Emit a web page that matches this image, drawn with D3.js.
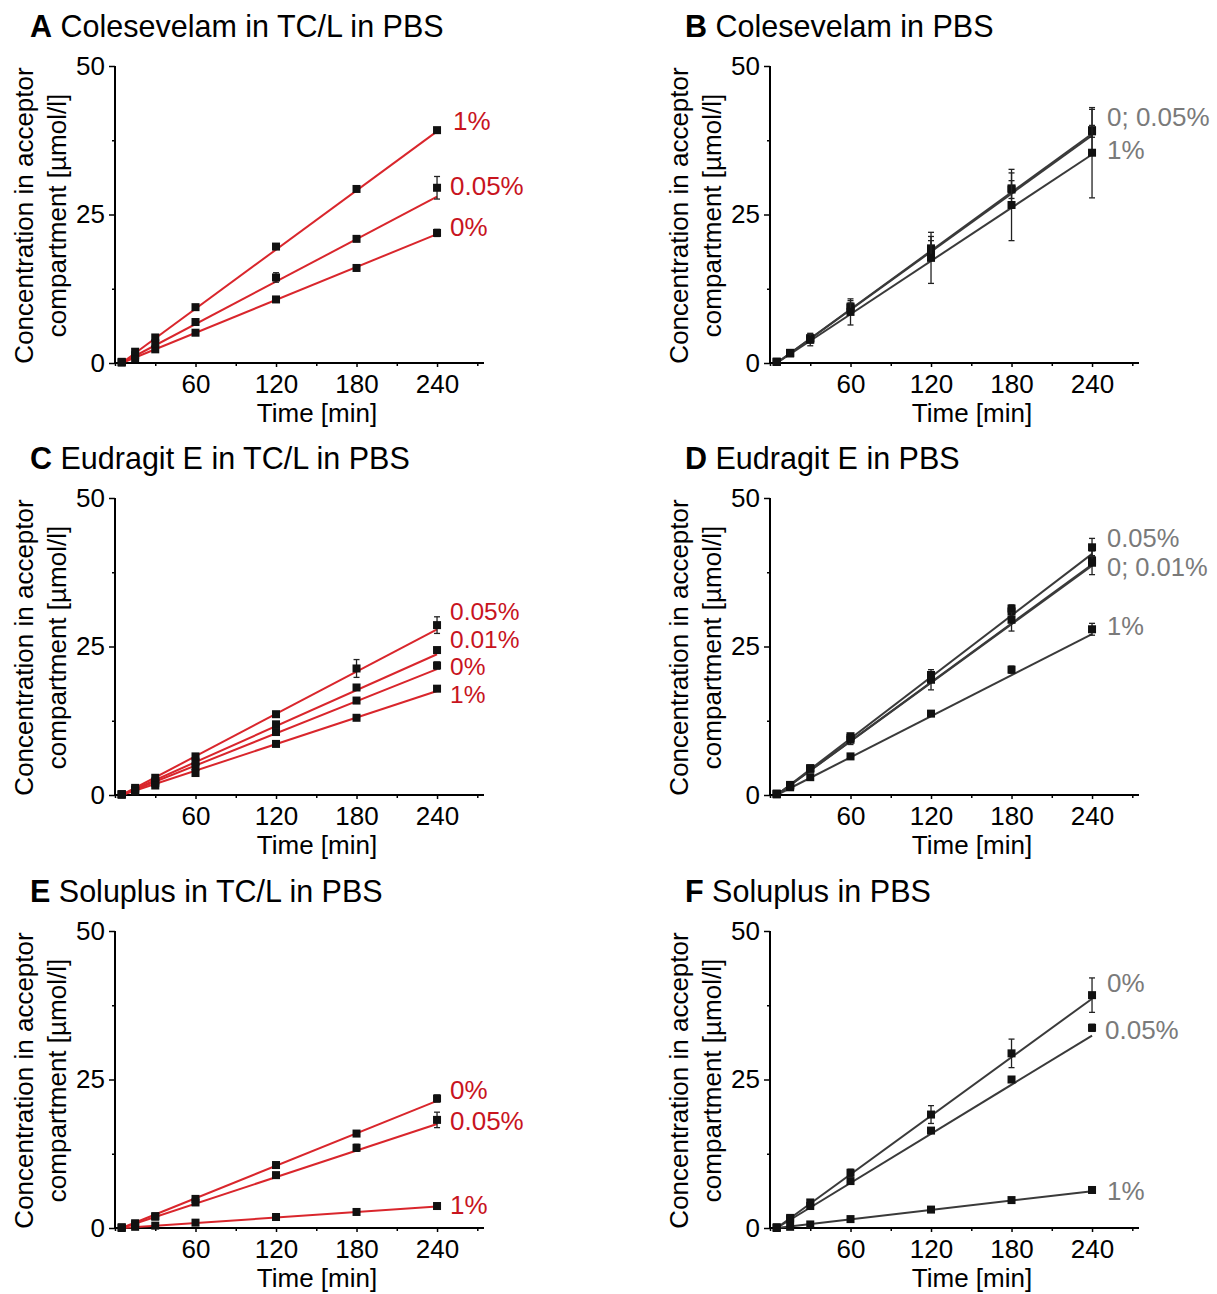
<!DOCTYPE html>
<html>
<head>
<meta charset="utf-8">
<script src="https://cdn.jsdelivr.net/npm/d3@7"></script>
<style>
  html, body { margin: 0; padding: 0; background: #fff; }
  svg text { font-family: "Liberation Sans", Arial, sans-serif; }
</style>
</head>
<body>
<svg id="fig" width="1217" height="1294"></svg>
<script>
// Sampling times (min)
const times = [5, 15, 30, 60, 120, 180, 240];
const xMajorTicks = [60, 120, 180, 240];
const xMinorTicks = [0, 30, 90, 150, 210, 270];
const yMajorTicks = [0, 25, 50];
const yMinorTicks = [12.5, 37.5];

// A  Colesevelam in TC/L in PBS
const aMean0 = [0.1, 0.8, 2.3, 5.1, 10.7, 16.0, 21.9];
const aSd0 = [0.1, 0.2, 0.3, 0.3, 0.3, 0.5, 0.6];
const aMean005 = [0.1, 1.3, 3.3, 6.9, 14.4, 20.9, 29.5];
const aSd005 = [0.1, 0.2, 0.3, 0.3, 0.8, 0.5, 1.9];
const aMean1 = [0.2, 1.9, 4.3, 9.4, 19.6, 29.3, 39.2];
const aSd1 = [0.1, 0.2, 0.3, 0.3, 0.3, 0.3, 0.5];
const aFitEnd = [21.7, 28.0, 39.0];

// B  Colesevelam in PBS
const bMean0 = [0.2, 1.7, 4.2, 9.5, 19.3, 29.4, 39.2];
const bSd0 = [0.1, 0.2, 0.8, 1.0, 2.0, 2.6, 3.5];
const bMean005 = [0.2, 1.7, 4.1, 9.3, 19.0, 29.2, 39.0];
const bSd005 = [0.1, 0.2, 0.6, 0.8, 1.6, 1.5, 1.0];
const bMean1 = [0.2, 1.6, 3.9, 8.6, 17.7, 26.6, 35.4];
const bSd1 = [0.1, 0.3, 1.0, 2.2, 4.3, 6.0, 7.6];
const bFitEnd = [38.6, 38.3, 35.1];

// C  Eudragit E in TC/L in PBS
const cMean0 = [0.1, 0.8, 2.0, 4.8, 10.6, 15.9, 21.8];
const cSd0 = [0.1, 0.1, 0.2, 0.3, 0.3, 0.5, 0.6];
const cMean001 = [0.1, 0.9, 2.3, 5.6, 11.9, 18.1, 24.4];
const cSd001 = [0.1, 0.1, 0.2, 0.3, 0.3, 0.3, 0.4];
const cMean005 = [0.1, 1.2, 2.9, 6.5, 13.6, 21.3, 28.6];
const cSd005 = [0.1, 0.1, 0.3, 0.3, 0.3, 1.5, 1.4];
const cMean1 = [0.1, 0.6, 1.6, 3.7, 8.6, 13.0, 17.9];
const cSd1 = [0.1, 0.1, 0.2, 0.3, 0.4, 0.3, 0.3];
const cFitEnd = [21.2, 23.7, 27.9, 17.5];

// D  Eudragit E in PBS
const dMean0 = [0.2, 1.6, 4.5, 9.6, 19.8, 30.9, 39.5];
const dSd0 = [0.1, 0.2, 0.3, 0.4, 0.5, 0.6, 0.8];
const dMean001 = [0.2, 1.6, 4.4, 9.3, 19.4, 29.5, 39.1];
const dSd001 = [0.1, 0.2, 0.3, 0.8, 1.7, 1.9, 2.0];
const dMean005 = [0.2, 1.7, 4.5, 9.9, 20.2, 31.4, 41.7];
const dSd005 = [0.1, 0.2, 0.3, 0.4, 0.5, 0.6, 1.5];
const dMean1 = [0.1, 1.3, 3.0, 6.5, 13.7, 21.1, 27.9];
const dSd1 = [0.1, 0.1, 0.2, 0.2, 0.3, 0.6, 1.0];
const dFitEnd = [38.8, 38.6, 40.6, 27.1];

// E  Soluplus in TC/L in PBS
const eMean0 = [0.1, 0.8, 2.0, 4.9, 10.6, 15.9, 21.8];
const eSd0 = [0.1, 0.1, 0.2, 0.3, 0.3, 0.5, 0.6];
const eMean005 = [0.1, 0.6, 1.9, 4.3, 8.9, 13.5, 18.2];
const eSd005 = [0.1, 0.1, 0.2, 0.3, 0.3, 0.6, 1.3];
const eMean1 = [0.0, 0.2, 0.4, 0.9, 1.85, 2.7, 3.7];
const eSd1 = [0.0, 0.1, 0.1, 0.1, 0.1, 0.1, 0.2];
const eFitEnd = [21.4, 17.5, 3.6];

// F  Soluplus in PBS
const fMean0 = [0.1, 1.7, 4.3, 9.3, 19.1, 29.4, 39.2];
const fSd0 = [0.1, 0.2, 0.3, 0.6, 1.5, 2.4, 2.9];
const fMean005 = [0.1, 1.5, 3.7, 7.9, 16.4, 25.0, 33.7];
const fSd005 = [0.1, 0.1, 0.2, 0.3, 0.3, 0.5, 0.6];
const fMean1 = [0.0, 0.2, 0.6, 1.5, 3.1, 4.7, 6.4];
const fSd1 = [0.0, 0.1, 0.1, 0.1, 0.1, 0.1, 0.2];
const fFitEnd = [38.6, 32.4, 6.2];

const RED_LINE = "#d9262c";
const RED_TEXT = "#c8141e";
const GREY_LINE = "#3a3a3a";
const GREY_TEXT = "#7a7a7a";
const FONT = "Liberation Sans, Arial, sans-serif";

function series(means, sds, fitEnd) {
  return { means, sds, fitEnd };
}

// Panel definitions: grid position, title, series and right-hand labels
const panels = [
  { col: 0, row: 0, letter: "A", title: "Colesevelam in TC/L in PBS", line: RED_LINE, text: RED_TEXT, labelSize: 26,
    series: [series(aMean0, aSd0, aFitEnd[0]), series(aMean005, aSd005, aFitEnd[1]), series(aMean1, aSd1, aFitEnd[2])],
    labels: [{ t: "1%", dx: 3, y: 130 }, { t: "0.05%", dx: 0, y: 195 }, { t: "0%", dx: 0, y: 236 }] },
  { col: 1, row: 0, letter: "B", title: "Colesevelam in PBS", line: GREY_LINE, text: GREY_TEXT, labelSize: 26,
    series: [series(bMean0, bSd0, bFitEnd[0]), series(bMean005, bSd005, bFitEnd[1]), series(bMean1, bSd1, bFitEnd[2])],
    labels: [{ t: "0; 0.05%", dx: 2, y: 126 }, { t: "1%", dx: 2, y: 159 }] },
  { col: 0, row: 1, letter: "C", title: "Eudragit E in TC/L in PBS", line: RED_LINE, text: RED_TEXT, labelSize: 24.5,
    series: [series(cMean0, cSd0, cFitEnd[0]), series(cMean001, cSd001, cFitEnd[1]), series(cMean005, cSd005, cFitEnd[2]), series(cMean1, cSd1, cFitEnd[3])],
    labels: [{ t: "0.05%", dx: 0, y: 620 }, { t: "0.01%", dx: 0, y: 647.5 }, { t: "0%", dx: 0, y: 675 }, { t: "1%", dx: 0, y: 702.5 }] },
  { col: 1, row: 1, letter: "D", title: "Eudragit E in PBS", line: GREY_LINE, text: GREY_TEXT, labelSize: 25.5,
    series: [series(dMean0, dSd0, dFitEnd[0]), series(dMean001, dSd001, dFitEnd[1]), series(dMean005, dSd005, dFitEnd[2]), series(dMean1, dSd1, dFitEnd[3])],
    labels: [{ t: "0.05%", dx: 2, y: 547 }, { t: "0; 0.01%", dx: 2, y: 575.5 }, { t: "1%", dx: 2, y: 635 }] },
  { col: 0, row: 2, letter: "E", title: "Soluplus in TC/L in PBS", line: RED_LINE, text: RED_TEXT, labelSize: 26,
    series: [series(eMean0, eSd0, eFitEnd[0]), series(eMean005, eSd005, eFitEnd[1]), series(eMean1, eSd1, eFitEnd[2])],
    labels: [{ t: "0%", dx: 0, y: 1099 }, { t: "0.05%", dx: 0, y: 1130 }, { t: "1%", dx: 0, y: 1214 }] },
  { col: 1, row: 2, letter: "F", title: "Soluplus in PBS", line: GREY_LINE, text: GREY_TEXT, labelSize: 26,
    series: [series(fMean0, fSd0, fFitEnd[0]), series(fMean005, fSd005, fFitEnd[1]), series(fMean1, fSd1, fFitEnd[2])],
    labels: [{ t: "0%", dx: 2, y: 992 }, { t: "0.05%", dx: 0, y: 1039 }, { t: "1%", dx: 2, y: 1200 }] }
];

const svg = d3.select("#fig");
const colX = [0, 655];
const rowY = [0, 432, 865];

panels.forEach(p => {
  const ox = colX[p.col], oy = rowY[p.row];
  const g = svg.append("g").attr("transform", `translate(${ox},${oy})`);

  const x = d3.scaleLinear().domain([0, 275]).range([115, 484]);
  const y = d3.scaleLinear().domain([0, 50]).range([363, 66]);

  // Title
  const title = g.append("text").attr("x", 30).attr("y", 37)
    .attr("font-size", 30.5).attr("fill", "#000");
  title.append("tspan").attr("font-weight", "bold").text(p.letter);
  title.append("tspan").text(" " + p.title);

  // Y axis
  const yAxis = g.append("g").attr("transform", `translate(${x.range()[0]},0)`)
    .call(d3.axisLeft(y).tickValues(yMajorTicks).tickSize(6).tickPadding(4).tickFormat(d3.format("d")));
  yAxis.select(".domain").attr("stroke-width", 2).attr("d", `M0,${y(0)}V${y(50)}`);
  yAxis.selectAll(".tick line").attr("stroke-width", 1.5);
  yAxis.selectAll(".tick text").attr("font-size", 26).attr("font-family", FONT).attr("fill", "#000");
  g.append("g").attr("transform", `translate(${x.range()[0]},0)`)
    .call(d3.axisLeft(y).tickValues(yMinorTicks).tickSize(3).tickFormat(""))
    .call(s => s.select(".domain").remove())
    .selectAll(".tick line").attr("stroke-width", 1.5);

  // X axis
  const xAxis = g.append("g").attr("transform", `translate(0,${y(0)})`)
    .call(d3.axisBottom(x).tickValues(xMajorTicks).tickSize(4).tickPadding(8).tickFormat(d3.format("d")));
  xAxis.select(".domain").attr("stroke-width", 2).attr("d", `M${x.range()[0]},0H${x.range()[1]}`);
  xAxis.selectAll(".tick line").attr("stroke-width", 1.5);
  xAxis.selectAll(".tick text").attr("font-size", 26).attr("font-family", FONT).attr("fill", "#000");
  g.append("g").attr("transform", `translate(0,${y(0)})`)
    .call(d3.axisBottom(x).tickValues(xMinorTicks).tickSize(3).tickFormat(""))
    .call(s => s.select(".domain").remove())
    .selectAll(".tick line").attr("stroke-width", 1.5);

  // Axis titles
  g.append("text").attr("x", 317).attr("y", 422).attr("text-anchor", "middle")
    .attr("font-size", 26).text("Time [min]");
  const ylab = g.append("text").attr("transform", `translate(0,${(y(0) + y(50)) / 2 + 1}) rotate(-90)`)
    .attr("text-anchor", "middle").attr("font-size", 26);
  ylab.append("tspan").attr("x", 0).attr("y", 33).text("Concentration in acceptor");
  ylab.append("tspan").attr("x", 0).attr("y", 66).text("compartment [\u00b5mol/l]");

  // Fitted lines
  const line = d3.line().x(d => x(d[0])).y(d => y(d[1]));
  p.series.forEach(s => {
    g.append("path")
      .attr("d", line([[times[0], 0], [times[times.length - 1], s.fitEnd]]))
      .attr("fill", "none").attr("stroke", p.line).attr("stroke-width", 2);
  });

  // Error bars and markers
  p.series.forEach(s => {
    const pts = times.map((t, i) => ({ t, m: s.means[i], sd: s.sds[i] }));
    const eb = g.append("g").attr("stroke", "#222").attr("stroke-width", 1.3);
    pts.forEach(d => {
      if (y(d.m - d.sd) - y(d.m + d.sd) < 7) return;
      eb.append("line").attr("x1", x(d.t)).attr("x2", x(d.t))
        .attr("y1", y(d.m - d.sd)).attr("y2", y(d.m + d.sd));
      [d.m - d.sd, d.m + d.sd].forEach(v => {
        eb.append("line").attr("x1", x(d.t) - 3).attr("x2", x(d.t) + 3)
          .attr("y1", y(v)).attr("y2", y(v));
      });
    });
    g.append("g").selectAll("rect").data(pts).join("rect")
      .attr("x", d => x(d.t) - 4).attr("y", d => y(d.m) - 4)
      .attr("width", 8).attr("height", 8).attr("fill", "#111");
  });

  // Series labels
  p.labels.forEach(l => {
    g.append("text").attr("x", 450 + l.dx).attr("y", l.y - oy)
      .attr("font-size", p.labelSize).attr("fill", p.text).text(l.t);
  });
});
</script>
</body>
</html>
